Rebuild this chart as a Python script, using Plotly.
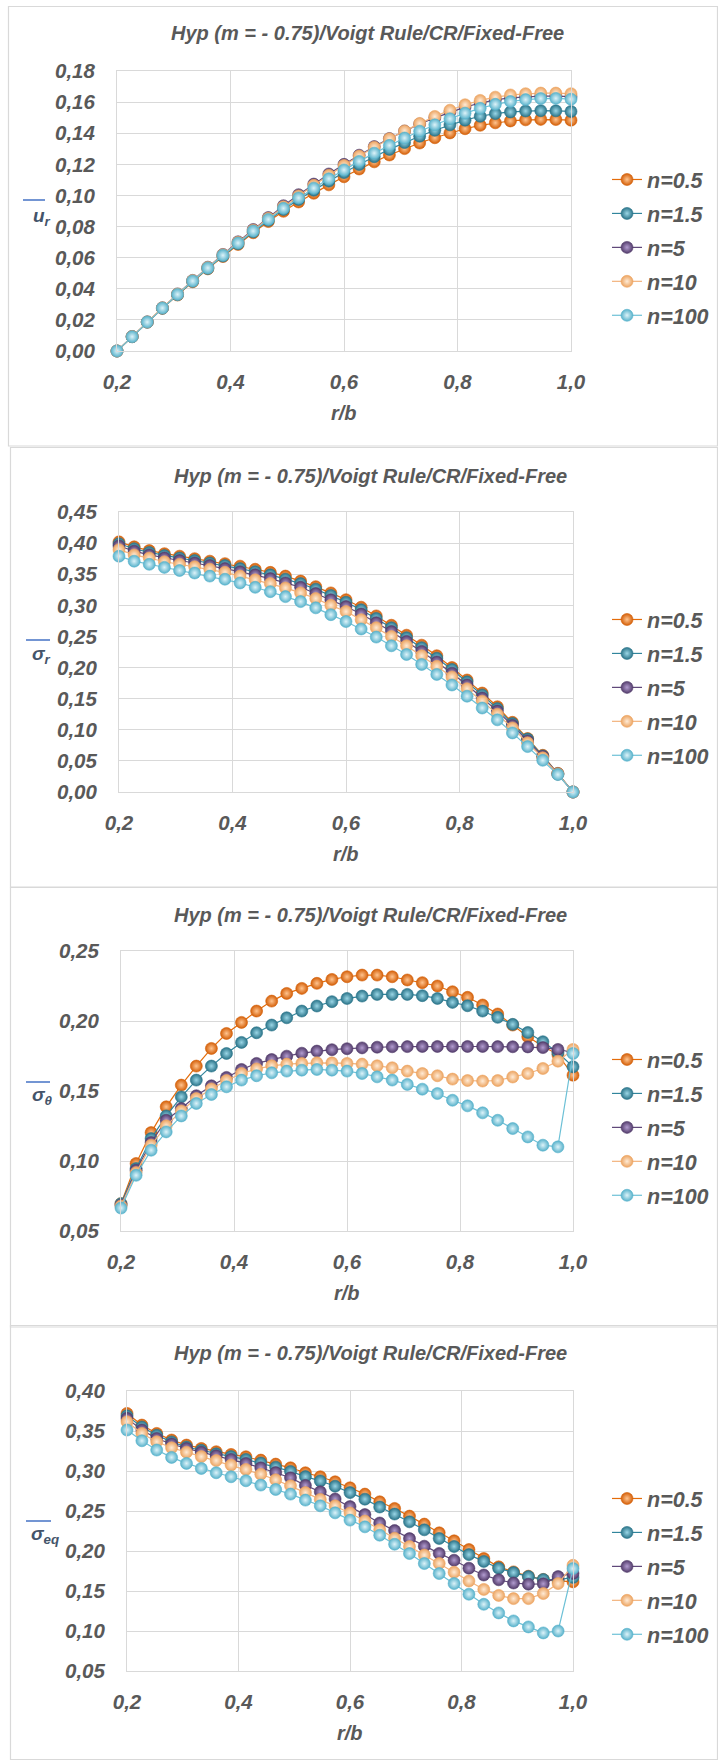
import plotly.graph_objects as go

# ---------------- DATA ----------------
r_b = [0.2000, 0.2267, 0.2533, 0.2800, 0.3067, 0.3333, 0.3600, 0.3867, 0.4133, 0.4400,
       0.4667, 0.4933, 0.5200, 0.5467, 0.5733, 0.6000, 0.6267, 0.6533, 0.6800, 0.7067,
       0.7333, 0.7600, 0.7867, 0.8133, 0.8400, 0.8667, 0.8933, 0.9200, 0.9467, 0.9733, 1.0000]

series_names = ["n=0.5", "n=1.5", "n=5", "n=10", "n=100"]

# chart 1 : u_r
ur_n05 = [0.0000, 0.0092, 0.0185, 0.0274, 0.0360, 0.0445, 0.0528, 0.0607, 0.0685, 0.0760, 0.0832, 0.0898, 0.0958, 0.1014, 0.1068, 0.1120,
          0.1170, 0.1216, 0.1260, 0.1301, 0.1337, 0.1371, 0.1402, 0.1429, 0.1451, 0.1467, 0.1479, 0.1486, 0.1489, 0.1488, 0.1484]
ur_n15 = [0.0000, 0.0092, 0.0186, 0.0275, 0.0362, 0.0448, 0.0531, 0.0611, 0.0690, 0.0766, 0.0840, 0.0910, 0.0974, 0.1034, 0.1092, 0.1147,
          0.1199, 0.1249, 0.1296, 0.1340, 0.1381, 0.1419, 0.1454, 0.1484, 0.1509, 0.1526, 0.1537, 0.1543, 0.1545, 0.1544, 0.1540]
ur_n5 = [0.0000, 0.0093, 0.0187, 0.0278, 0.0367, 0.0454, 0.0539, 0.0621, 0.0702, 0.0781, 0.0858, 0.0934, 0.1005, 0.1073, 0.1138, 0.1200,
         0.1259, 0.1314, 0.1366, 0.1414, 0.1459, 0.1499, 0.1536, 0.1568, 0.1594, 0.1614, 0.1627, 0.1635, 0.1639, 0.1639, 0.1635]
ur_n10 = [0.0000, 0.0093, 0.0187, 0.0278, 0.0366, 0.0453, 0.0537, 0.0619, 0.0699, 0.0777, 0.0853, 0.0927, 0.0997, 0.1065, 0.1130, 0.1193,
          0.1253, 0.1310, 0.1364, 0.1415, 0.1463, 0.1508, 0.1548, 0.1583, 0.1611, 0.1632, 0.1646, 0.1654, 0.1658, 0.1658, 0.1654]
ur_n100 = [0.0000, 0.0092, 0.0186, 0.0276, 0.0364, 0.0450, 0.0534, 0.0615, 0.0694, 0.0771, 0.0846, 0.0917, 0.0984, 0.1047, 0.1107, 0.1164,
           0.1219, 0.1272, 0.1322, 0.1369, 0.1413, 0.1454, 0.1493, 0.1529, 0.1560, 0.1586, 0.1604, 0.1616, 0.1623, 0.1624, 0.1619]

# chart 2 : sigma_r
sr_n05 = [0.402, 0.394, 0.388, 0.383, 0.379, 0.375, 0.371, 0.367, 0.363, 0.358, 0.353, 0.347, 0.339, 0.330, 0.320, 0.309,
          0.297, 0.283, 0.268, 0.252, 0.236, 0.219, 0.200, 0.180, 0.159, 0.137, 0.112, 0.086, 0.059, 0.030, 0.000]
sr_n15 = [0.399, 0.391, 0.385, 0.380, 0.376, 0.372, 0.368, 0.364, 0.359, 0.354, 0.349, 0.342, 0.335, 0.326, 0.316, 0.305,
          0.293, 0.279, 0.264, 0.248, 0.232, 0.215, 0.197, 0.177, 0.156, 0.134, 0.110, 0.085, 0.058, 0.029, 0.000]
sr_n5 = [0.3955, 0.387, 0.381, 0.376, 0.372, 0.368, 0.364, 0.359, 0.354, 0.349, 0.343, 0.336, 0.329, 0.319, 0.309, 0.298,
         0.286, 0.272, 0.258, 0.242, 0.226, 0.209, 0.191, 0.172, 0.151, 0.130, 0.107, 0.082, 0.057, 0.029, 0.000]
sr_n10 = [0.3895, 0.381, 0.376, 0.370, 0.366, 0.362, 0.358, 0.353, 0.347, 0.341, 0.335, 0.328, 0.320, 0.311, 0.300, 0.290,
          0.277, 0.264, 0.250, 0.235, 0.219, 0.202, 0.185, 0.166, 0.146, 0.125, 0.103, 0.079, 0.055, 0.029, 0.000]
sr_n100 = [0.379, 0.371, 0.366, 0.361, 0.356, 0.352, 0.347, 0.342, 0.336, 0.329, 0.322, 0.314, 0.306, 0.296, 0.285, 0.274,
           0.262, 0.249, 0.235, 0.221, 0.205, 0.189, 0.172, 0.154, 0.135, 0.116, 0.095, 0.073, 0.051, 0.028, 0.000]

# chart 3 : sigma_theta
st_n05 = [0.0695, 0.0982, 0.1203, 0.1387, 0.1542, 0.1678, 0.1804, 0.1911, 0.1990, 0.2071, 0.2142, 0.2197, 0.2233, 0.2269, 0.2297, 0.2316,
          0.2328, 0.2328, 0.2316, 0.2293, 0.2274, 0.2250, 0.2209, 0.2169, 0.2114, 0.2050, 0.1971, 0.1887, 0.1820, 0.1760, 0.1613]
st_n15 = [0.0695, 0.0946, 0.1160, 0.1322, 0.1458, 0.1578, 0.1678, 0.1768, 0.1847, 0.1916, 0.1971, 0.2023, 0.2071, 0.2107, 0.2138, 0.2161,
          0.2178, 0.2190, 0.2190, 0.2190, 0.2181, 0.2161, 0.2133, 0.2109, 0.2071, 0.2026, 0.1976, 0.1918, 0.1852, 0.1775, 0.1673]
st_n5 = [0.0684, 0.0934, 0.1132, 0.1291, 0.1375, 0.1466, 0.1537, 0.1597, 0.1654, 0.1697, 0.1725, 0.1749, 0.1770, 0.1785, 0.1795, 0.1802,
         0.1808, 0.1813, 0.1816, 0.1817, 0.1818, 0.1818, 0.1818, 0.1818, 0.1818, 0.1817, 0.1816, 0.1815, 0.1810, 0.1797, 0.1775]
st_n10 = [0.0679, 0.0917, 0.1113, 0.1251, 0.1358, 0.1446, 0.1515, 0.1575, 0.1625, 0.1658, 0.1680, 0.1692, 0.1697, 0.1701, 0.1701, 0.1697,
          0.1692, 0.1680, 0.1666, 0.1642, 0.1625, 0.1609, 0.1585, 0.1575, 0.1571, 0.1575, 0.1600, 0.1625, 0.1661, 0.1713, 0.1797]
st_n100 = [0.0664, 0.0898, 0.1077, 0.1208, 0.1322, 0.1411, 0.1475, 0.1530, 0.1578, 0.1609, 0.1630, 0.1642, 0.1649, 0.1654, 0.1649, 0.1642,
           0.1625, 0.1601, 0.1578, 0.1547, 0.1513, 0.1482, 0.1434, 0.1394, 0.1344, 0.1291, 0.1232, 0.1172, 0.1113, 0.1101, 0.1768]

# chart 4 : sigma_eq
se_n05 = [0.3720, 0.3574, 0.3470, 0.3387, 0.3324, 0.3282, 0.3241, 0.3207, 0.3178, 0.3136, 0.3086, 0.3040, 0.2978, 0.2928, 0.2865, 0.2790,
          0.2711, 0.2615, 0.2532, 0.2436, 0.2336, 0.2227, 0.2127, 0.2018, 0.1906, 0.1802, 0.1739, 0.1685, 0.1643, 0.1630, 0.1614]
se_n15 = [0.3690, 0.3550, 0.3447, 0.3364, 0.3300, 0.3258, 0.3215, 0.3180, 0.3145, 0.3100, 0.3048, 0.2995, 0.2930, 0.2876, 0.2810, 0.2730,
          0.2648, 0.2550, 0.2462, 0.2365, 0.2265, 0.2157, 0.2057, 0.1955, 0.1870, 0.1785, 0.1730, 0.1680, 0.1645, 0.1640, 0.1670]
se_n5 = [0.3658, 0.3512, 0.3407, 0.3337, 0.3282, 0.3235, 0.3190, 0.3145, 0.3095, 0.3040, 0.2980, 0.2915, 0.2820, 0.2740, 0.2650, 0.2555,
         0.2455, 0.2350, 0.2255, 0.2155, 0.2060, 0.1970, 0.1885, 0.1785, 0.1700, 0.1640, 0.1600, 0.1585, 0.1590, 0.1680, 0.1720]
se_n10 = [0.3616, 0.3470, 0.3366, 0.3290, 0.3235, 0.3180, 0.3130, 0.3075, 0.3020, 0.2960, 0.2890, 0.2815, 0.2730, 0.2645, 0.2565, 0.2475,
          0.2375, 0.2265, 0.2160, 0.2055, 0.1950, 0.1845, 0.1735, 0.1625, 0.1520, 0.1445, 0.1405, 0.1405, 0.1468, 0.1593, 0.1822]
se_n100 = [0.3512, 0.3378, 0.3262, 0.3170, 0.3095, 0.3032, 0.2978, 0.2928, 0.2878, 0.2824, 0.2769, 0.2711, 0.2636, 0.2565, 0.2477, 0.2386,
           0.2302, 0.2198, 0.2085, 0.1968, 0.1843, 0.1718, 0.1593, 0.1460, 0.1334, 0.1226, 0.1126, 0.1051, 0.0976, 0.1000, 0.1780]

x_ticks = [0.2, 0.4, 0.6, 0.8, 1.0]
# --------------------------------------

W, H = 718, 1760


def px(v):
    return v / W


def py(v):
    return 1 - v / H


TXT = "#595959"
FONT = "Liberation Sans, Arial, sans-serif"
GRID = "#D9D9D9"

line_colors = ["#E46C0A", "#31859C", "#60497A", "#F2B27C", "#6CC0D6"]
mk_colors = ["#D45F08", "#2A7489", "#533C6B", "#ECA461", "#58B2CB"]
grad_colors = ["#FFC48F", "#9AD6E6", "#B29CD0", "#FFEBD6", "#DDF3F9"]

RIGHT_EDGE = W - 0.5
BOTTOM_EDGE = H - 0.5

panels = [
    dict(data=[ur_n05, ur_n15, ur_n5, ur_n10, ur_n100], yr=[0, 0.18], dt=0.02,
         box=(117, 571, 71, 351), frame=(8.5, 6.5, 446), title_x=367, title_y=33,
         ysym="u", ysub="r", ylab_x=42, ylab_y=217, over=(23, 45, 200), leg_top=159),
    dict(data=[sr_n05, sr_n15, sr_n5, sr_n10, sr_n100], yr=[0, 0.45], dt=0.05,
         box=(119, 573, 512, 792), frame=(10.5, 447.5, 887), title_x=370, title_y=476,
         ysym="σ", ysub="r", ylab_x=41, ylab_y=655, over=(26, 50, 640), leg_top=599),
    dict(data=[st_n05, st_n15, st_n5, st_n10, st_n100], yr=[0.05, 0.25], dt=0.05,
         box=(121, 573, 951, 1231), frame=(10.5, 887.5, 1327), title_x=370, title_y=915,
         ysym="σ", ysub="θ", ylab_x=42, ylab_y=1096, over=(26, 50, 1082), leg_top=1039),
    dict(data=[se_n05, se_n15, se_n5, se_n10, se_n100], yr=[0.05, 0.40], dt=0.05,
         box=(127, 573, 1391, 1671), frame=(10.5, 1325.5, BOTTOM_EDGE), title_x=370, title_y=1353,
         ysym="σ", ysub="eq", ylab_x=45, ylab_y=1535, over=(26, 51, 1521), leg_top=1478),
]

fig = go.Figure()
shapes = []
annotations = []
layout = {}

tickfont = dict(family=FONT, size=20.5, color=TXT, weight="bold", style="italic")

for i, p in enumerate(panels):
    sfx = "" if i == 0 else str(i + 1)
    xa, ya = "x" + sfx, "y" + sfx
    leg = "legend" + sfx
    x0, x1, y0, y1 = p["box"]
    for j, (vals, name) in enumerate(zip(p["data"], series_names)):
        fig.add_trace(go.Scatter(
            x=r_b, y=vals, name=name, mode="lines+markers",
            xaxis=xa, yaxis=ya, legend=leg, legendgroup=f"g{i}_{j}",
            cliponaxis=False,
            line=dict(color=line_colors[j], width=1.2),
            marker=dict(size=12, color=mk_colors[j],
                        gradient=dict(type="radial", color=grad_colors[j]),
                        line=dict(width=0.6, color=mk_colors[j])),
        ))
    layout["xaxis" + sfx] = dict(
        domain=[px(x0), px(x1)], anchor=ya, range=[0.2, 1.0], automargin=False,
        tickmode="array", tickvals=x_ticks, tickformat=".1f",
        showgrid=True, gridcolor=GRID, gridwidth=1,
        showline=True, linecolor=GRID, linewidth=1, mirror=True,
        zeroline=False, ticks="", tickfont=tickfont, ticklabelstandoff=12,
    )
    layout["yaxis" + sfx] = dict(
        domain=[py(y1), py(y0)], anchor=xa, range=p["yr"], dtick=p["dt"], automargin=False,
        tick0=p["yr"][0], tickformat=".2f",
        showgrid=True, gridcolor=GRID, gridwidth=1,
        showline=True, linecolor=GRID, linewidth=1, mirror=True,
        zeroline=False, ticks="", tickfont=tickfont, ticklabelstandoff=17,
    )
    layout[leg] = dict(
        x=px(607), y=py(p["leg_top"]), xanchor="left", yanchor="top",
        font=dict(family=FONT, size=21.5, color=TXT, weight="bold", style="italic"),
        bgcolor="rgba(0,0,0,0)", traceorder="grouped", tracegroupgap=3,
        itemwidth=30,
    )
    # frame
    fx, ftop, fbot = p["frame"]
    shapes.append(dict(type="rect", xref="paper", yref="paper",
                       x0=px(fx), x1=px(RIGHT_EDGE), y0=py(fbot), y1=py(ftop),
                       line=dict(color="#D9D9D9", width=1.2), fillcolor="rgba(0,0,0,0)",
                       layer="below"))
    # y label overline
    ox0, ox1, oy = p["over"]
    shapes.append(dict(type="line", xref="paper", yref="paper",
                       x0=px(ox0), x1=px(ox1), y0=py(oy), y1=py(oy),
                       line=dict(color="#4472C4", width=1.5)))
    # title
    annotations.append(dict(
        text="Hyp (m = - 0.75)/Voigt Rule/CR/Fixed-Free", xref="paper", yref="paper",
        x=px(p["title_x"]), y=py(p["title_y"]), xanchor="center", yanchor="middle",
        showarrow=False,
        font=dict(family=FONT, size=20, color=TXT, style="italic", weight="bold")))
    # x axis title
    annotations.append(dict(
        text="r/b", xref="paper", yref="paper",
        x=px((x0 + x1) / 2), y=py(y1 + 62), xanchor="center", yanchor="middle",
        showarrow=False,
        font=dict(family=FONT, size=20, color=TXT, style="italic", weight="bold")))
    # y axis title
    annotations.append(dict(
        text=f"<i>{p['ysym']}</i><sub><i>{p['ysub']}</i></sub>", xref="paper", yref="paper",
        x=px(p["ylab_x"]), y=py(p["ylab_y"]), xanchor="center", yanchor="middle",
        showarrow=False,
        font=dict(family=FONT, size=19, color="#44546A", weight="bold")))

fig.update_layout(
    width=W, height=H, margin=dict(l=0, r=0, t=0, b=0, pad=0, autoexpand=False),
    paper_bgcolor="white", plot_bgcolor="white",
    separators=", ", showlegend=True,
    shapes=shapes, annotations=annotations,
    **layout,
)

fig.write_html("out.html")
